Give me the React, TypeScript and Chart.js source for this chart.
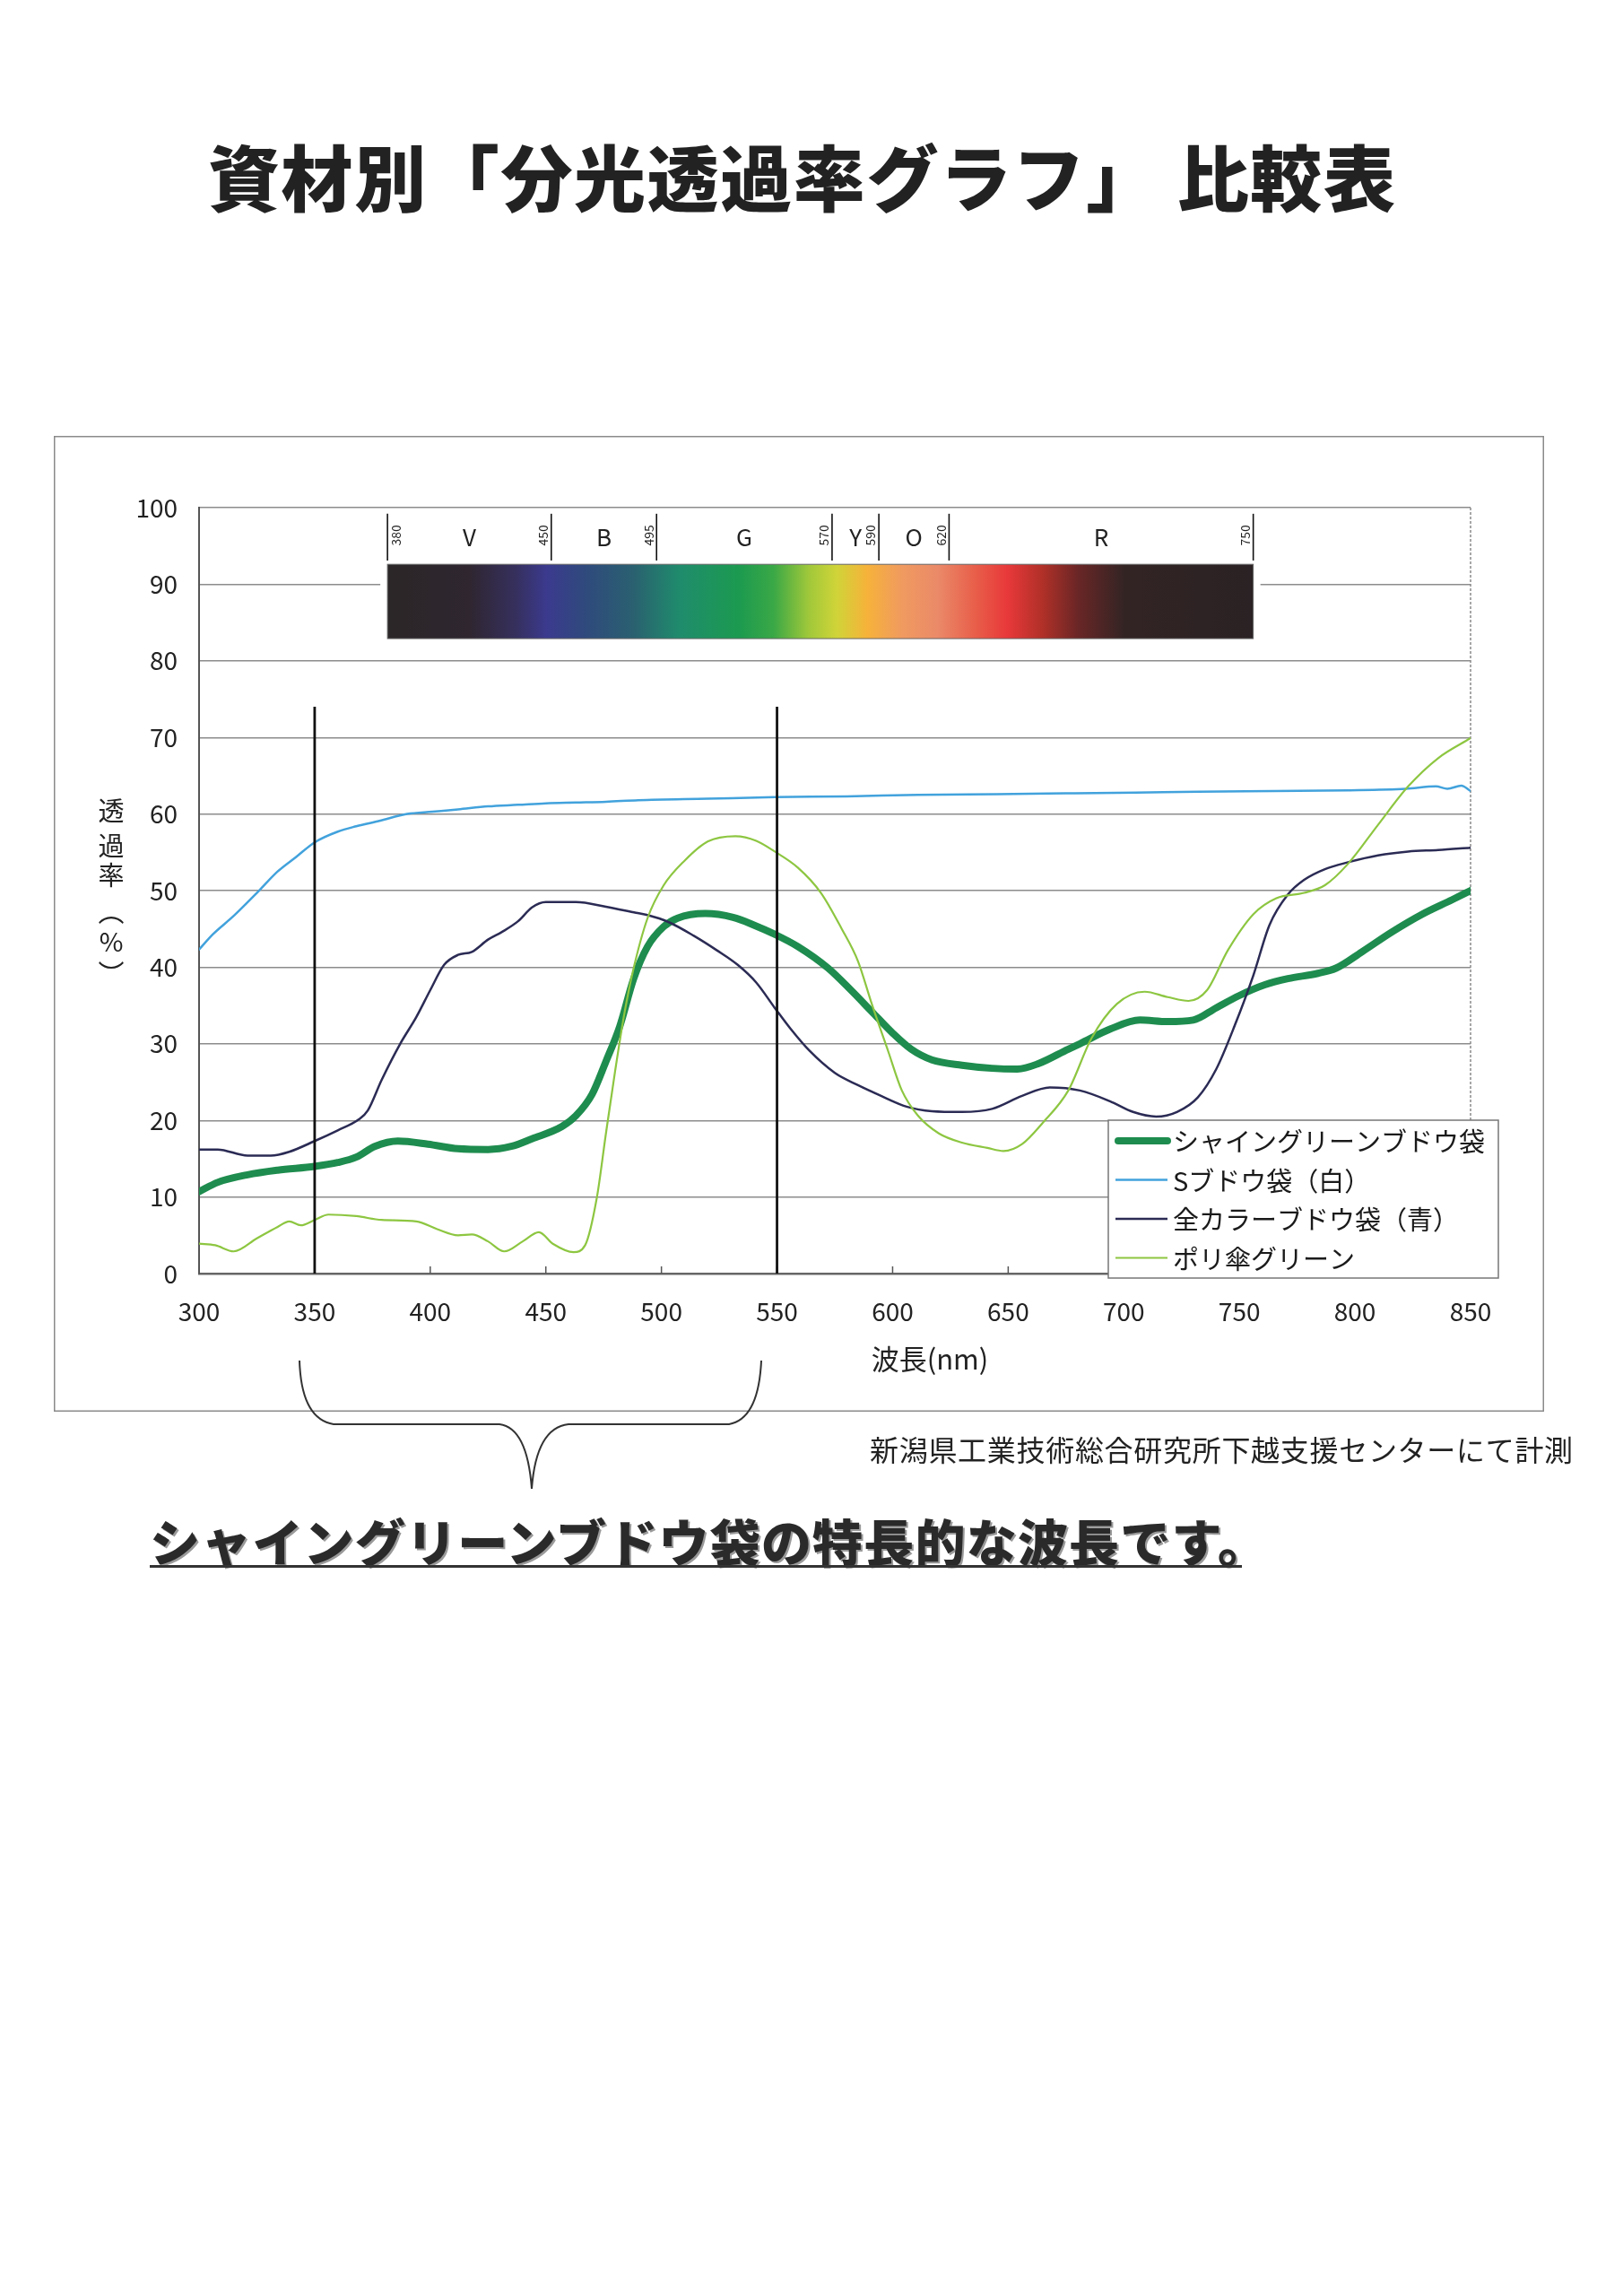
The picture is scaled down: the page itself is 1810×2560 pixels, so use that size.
import React, { useEffect, useRef } from "react";
import { Chart, registerables } from "chart.js";

Chart.register(...registerables);

// ---------- text ----------
const TITLE = "資材別「分光透過率グラフ」 比較表";
const NOTE = "新潟県工業技術総合研究所下越支援センターにて計測";
const SENTENCE = "シャイングリーンブドウ袋の特長的な波長です。";
const X_TITLE = "波長(nm)";
const Y_TITLE_CHARS = ["透", "過", "率", "︵", "%", "︶"];
const seriesNames = ["シャイングリーンブドウ袋", "Sブドウ袋（白）", "全カラーブドウ袋（青）", "ポリ傘グリーン"];

// ---------- axes ----------
const xTickValues = [300, 350, 400, 450, 500, 550, 600, 650, 700, 750, 800, 850];
const yTickValues = [0, 10, 20, 30, 40, 50, 60, 70, 80, 90, 100];
const markerWavelengths = [350, 550];
const markerTop = 74;

// ---------- spectrum band ----------
const spectrumBounds = [380, 450, 495, 570, 590, 620, 750];
const bandLabels = ["V", "B", "G", "Y", "O", "R"];
const spectrumAxisRange = [381.5, 756];
const spectrumBarRange = [82.9, 92.6];
const spectrumLabelRange = [93.1, 99.2];
const spectrumStopsNm = [380, 415, 435, 448, 465, 485, 505, 530, 545, 560, 572, 585, 600, 615, 632, 645, 660, 675, 695, 750];
const spectrumStopsColor = ["#2b2627", "#2f2630", "#36305e", "#3b3a8e", "#2f4a7c", "#2a6070", "#1f8c6c", "#1c9a50", "#3aa846", "#a0c83a", "#d0d438", "#f6b23a", "#f09a60", "#ea8a68", "#e85c48", "#e8383a", "#b03028", "#6a2626", "#332424", "#2a2224"];

// ---------- series ----------
const shineWl = [300, 308, 321, 334, 350, 360, 368, 376, 386, 399, 412, 425, 435, 444, 457, 463, 470, 476, 482, 488, 494, 501, 507, 519, 531, 540, 549, 559, 572, 582, 591, 600, 608, 617, 630, 643, 654, 663, 676, 681, 694, 707, 719, 730, 740, 750, 761, 771, 784, 792, 803, 816, 829, 842, 850];
const shineT = [10.7, 11.9, 12.9, 13.5, 14.0, 14.5, 15.2, 16.6, 17.3, 16.9, 16.3, 16.2, 16.6, 17.6, 19.2, 20.6, 23.4, 27.7, 32.3, 38.5, 42.7, 45.3, 46.4, 47.0, 46.5, 45.5, 44.3, 42.7, 39.9, 37.0, 34.2, 31.4, 29.3, 27.9, 27.2, 26.8, 26.7, 27.4, 29.3, 30.0, 31.9, 33.1, 32.9, 33.1, 34.7, 36.3, 37.7, 38.5, 39.2, 39.9, 42.0, 44.6, 46.9, 48.8, 50.0];

const whiteWl = [300, 306, 315, 325, 334, 342, 350, 360, 368, 378, 390, 401, 412, 425, 438, 450, 463, 476, 490, 520, 549, 580, 611, 645, 675, 705, 732, 765, 797, 822, 835, 840, 846, 850];
const whiteT = [42.3, 44.3, 46.7, 49.7, 52.5, 54.4, 56.3, 57.7, 58.4, 59.1, 60.0, 60.3, 60.6, 61.0, 61.2, 61.4, 61.5, 61.6, 61.8, 62.0, 62.2, 62.3, 62.5, 62.6, 62.7, 62.8, 62.9, 63.0, 63.1, 63.3, 63.6, 63.3, 63.7, 63.0];

const blueWl = [300, 308, 321, 331, 339, 350, 360, 369, 373, 379, 387, 394, 400, 406, 412, 418, 425, 431, 438, 444, 450, 463, 476, 489, 494, 503, 514, 524, 533, 541, 549, 556, 564, 575, 585, 595, 606, 617, 630, 643, 656, 668, 681, 694, 704, 714, 723, 732, 740, 748, 756, 763, 771, 778, 787, 797, 810, 823, 836, 850];
const blueT = [16.2, 16.2, 15.4, 15.4, 15.9, 17.3, 18.7, 20.1, 21.3, 25.3, 30.0, 33.5, 37.0, 40.3, 41.6, 42.0, 43.6, 44.6, 46.0, 47.8, 48.5, 48.5, 47.9, 47.1, 46.8, 45.9, 44.1, 42.2, 40.3, 38.0, 34.7, 31.9, 29.1, 26.2, 24.6, 23.2, 21.8, 21.2, 21.1, 21.5, 23.2, 24.3, 23.9, 22.5, 21.1, 20.5, 21.1, 23.0, 26.7, 32.4, 38.9, 45.5, 49.5, 51.4, 52.8, 53.7, 54.6, 55.1, 55.3, 55.6];

const polyWl = [300, 307, 315, 325, 334, 339, 344, 350, 356, 368, 379, 394, 403, 412, 418, 425, 432, 440, 447, 453, 462, 467, 472, 476, 480, 484, 488, 494, 501, 510, 520, 532, 541, 549, 559, 569, 578, 585, 591, 598, 604, 611, 620, 630, 641, 648, 656, 665, 676, 686, 697, 709, 719, 728, 736, 745, 756, 766, 778, 787, 797, 810, 823, 836, 850];
const polyT = [3.9, 3.7, 2.9, 4.6, 6.1, 6.8, 6.3, 7.0, 7.7, 7.5, 7.0, 6.8, 5.8, 5.0, 5.1, 4.2, 2.9, 4.2, 5.4, 3.9, 2.8, 3.7, 9.8, 18.3, 26.5, 34.0, 39.9, 46.4, 50.7, 53.9, 56.4, 57.1, 56.5, 55.1, 53.0, 49.7, 45.0, 40.8, 35.2, 29.1, 23.9, 20.6, 18.3, 17.1, 16.4, 16.0, 16.9, 19.7, 23.9, 30.7, 35.2, 36.8, 36.1, 35.6, 37.0, 42.2, 46.9, 49.0, 49.7, 50.7, 53.5, 58.6, 63.6, 67.3, 69.9];

const seriesColors = ["#1e8c4e", "#42a2dc", "#2b2b55", "#8dc641"];
const seriesWidths = [8, 2.5, 2.5, 2.2];
const seriesOrder = [4, 3, 2, 1];

const FONT = "'Noto Sans CJK JP', 'Noto Sans', sans-serif";

const toPoints = (xs: number[], ys: number[]) => xs.map((x, i) => ({ x, y: ys[i] }));

const decorPlugin = {
  id: "decor",
  beforeDatasetsDraw(chart: any) {
    const { ctx, chartArea, scales } = chart;
    const xs = scales.x;
    const ys = scales.y;
    ctx.save();
    // right border of plot (dotted)
    ctx.strokeStyle = "#8a8a8a";
    ctx.lineWidth = 1.5;
    ctx.setLineDash([3, 2]);
    ctx.beginPath();
    ctx.moveTo(chartArea.right, chartArea.top);
    ctx.lineTo(chartArea.right, chartArea.bottom);
    ctx.stroke();
    ctx.setLineDash([]);
    // inward tick marks on x axis
    ctx.strokeStyle = "#555";
    ctx.lineWidth = 1.5;
    for (const v of xTickValues) {
      const px = xs.getPixelForValue(v);
      ctx.beginPath();
      ctx.moveTo(px, chartArea.bottom);
      ctx.lineTo(px, chartArea.bottom - 8);
      ctx.stroke();
    }
    // spectrum band
    const n0 = spectrumBounds[0];
    const n1 = spectrumBounds[spectrumBounds.length - 1];
    const sp = (nm: number) =>
      xs.getPixelForValue(spectrumAxisRange[0] + ((nm - n0) * (spectrumAxisRange[1] - spectrumAxisRange[0])) / (n1 - n0));
    const bx0 = sp(n0);
    const bx1 = sp(n1);
    const byTop = ys.getPixelForValue(spectrumBarRange[1]);
    const byBot = ys.getPixelForValue(spectrumBarRange[0]);
    ctx.fillStyle = "#ffffff";
    ctx.fillRect(bx0 - 8, byTop - 4, bx1 - bx0 + 16, byBot - byTop + 8);
    const grad = ctx.createLinearGradient(bx0, 0, bx1, 0);
    spectrumStopsNm.forEach((nm, i) => grad.addColorStop((nm - n0) / (n1 - n0), spectrumStopsColor[i]));
    ctx.fillStyle = grad;
    ctx.fillRect(bx0, byTop, bx1 - bx0, byBot - byTop);
    ctx.strokeStyle = "#666";
    ctx.lineWidth = 1;
    ctx.strokeRect(bx0, byTop, bx1 - bx0, byBot - byTop);
    // label row
    const lyTop = ys.getPixelForValue(spectrumLabelRange[1]);
    const lyBot = ys.getPixelForValue(spectrumLabelRange[0]);
    const lyMid = (lyTop + lyBot) / 2;
    ctx.strokeStyle = "#111";
    ctx.lineWidth = 1.6;
    spectrumBounds.forEach((nm, i) => {
      const px = sp(nm);
      ctx.beginPath();
      ctx.moveTo(px, lyTop);
      ctx.lineTo(px, lyBot);
      ctx.stroke();
      ctx.save();
      const tx = i === 0 ? px + 10 : px - 9;
      ctx.translate(tx, lyMid - 2);
      ctx.rotate(-Math.PI / 2);
      ctx.fillStyle = "#222";
      ctx.font = `14px ${FONT}`;
      ctx.textAlign = "center";
      ctx.textBaseline = "middle";
      ctx.fillText(String(nm), 0, 0);
      ctx.restore();
    });
    ctx.fillStyle = "#222";
    ctx.font = `26px ${FONT}`;
    ctx.textAlign = "center";
    ctx.textBaseline = "middle";
    bandLabels.forEach((lab, i) => {
      const cx = (sp(spectrumBounds[i]) + sp(spectrumBounds[i + 1])) / 2;
      ctx.fillText(lab, cx, lyMid);
    });
    ctx.restore();
  },
  afterDatasetsDraw(chart: any) {
    const { ctx, scales } = chart;
    const xs = scales.x;
    const ys = scales.y;
    ctx.save();
    ctx.strokeStyle = "#111";
    ctx.lineWidth = 2.8;
    for (const wl of markerWavelengths) {
      const px = xs.getPixelForValue(wl);
      ctx.beginPath();
      ctx.moveTo(px, ys.getPixelForValue(markerTop));
      ctx.lineTo(px, ys.getPixelForValue(0));
      ctx.stroke();
    }
    ctx.restore();
  },
  afterDraw(chart: any) {
    const { ctx, width, height, chartArea } = chart;
    ctx.save();
    // outer box
    ctx.strokeStyle = "#8a8a8a";
    ctx.lineWidth = 1.5;
    ctx.strokeRect(0.75, 0.75, width - 1.5, height - 1.5);
    // legend
    const lx = chartArea.right - 404;
    const ly = chartArea.bottom - 171;
    const lw = 435;
    const lh = 176;
    ctx.fillStyle = "#ffffff";
    ctx.fillRect(lx, ly, lw, lh);
    ctx.strokeStyle = "#777";
    ctx.lineWidth = 1.5;
    ctx.strokeRect(lx, ly, lw, lh);
    ctx.font = `29px ${FONT}`;
    ctx.textAlign = "left";
    ctx.textBaseline = "middle";
    seriesNames.forEach((name, i) => {
      const cy = ly + 23 + i * 43.5;
      ctx.strokeStyle = seriesColors[i];
      ctx.lineWidth = seriesWidths[i];
      ctx.lineCap = i === 0 ? "round" : "butt";
      ctx.beginPath();
      ctx.moveTo(lx + (i === 0 ? 11 : 8), cy);
      ctx.lineTo(lx + 66, cy);
      ctx.stroke();
      ctx.fillStyle = "#1a1a1a";
      ctx.fillText(name, lx + 72, cy + 1);
    });
    // x title
    ctx.fillStyle = "#222";
    ctx.font = `31px ${FONT}`;
    ctx.textAlign = "center";
    ctx.textBaseline = "middle";
    ctx.fillText(X_TITLE, chartArea.left + 815, chartArea.bottom + 95);
    // y title (vertical)
    ctx.font = `29px ${FONT}`;
    const yCenters = [418, 457, 490, 531, 564, 600];
    Y_TITLE_CHARS.forEach((ch, i) => {
      ctx.fillText(ch, chartArea.left - 98, chartArea.top + yCenters[i] - 80);
    });
    ctx.restore();
  },
};

function SpectrumChart() {
  const ref = useRef<HTMLCanvasElement | null>(null);
  useEffect(() => {
    if (!ref.current) return;
    const chart = new Chart(ref.current, {
      type: "line",
      data: {
        datasets: [
          { label: seriesNames[0], data: toPoints(shineWl, shineT) },
          { label: seriesNames[1], data: toPoints(whiteWl, whiteT) },
          { label: seriesNames[2], data: toPoints(blueWl, blueT) },
          { label: seriesNames[3], data: toPoints(polyWl, polyT) },
        ].map((d, i) => ({
          ...d,
          borderColor: seriesColors[i],
          backgroundColor: seriesColors[i],
          borderWidth: seriesWidths[i],
          pointRadius: 0,
          cubicInterpolationMode: "monotone" as const,
          fill: false,
          order: seriesOrder[i],
          borderCapStyle: "round" as const,
          borderJoinStyle: "round" as const,
        })),
      },
      options: {
        animation: false,
        responsive: false,
        devicePixelRatio: 1,
        layout: { padding: { left: 0, right: 82, top: 80, bottom: 0 } },
        plugins: { legend: { display: false }, tooltip: { enabled: false } },
        scales: {
          x: {
            type: "linear",
            min: 300,
            max: 850,
            afterFit: (s: any) => {
              s.height = 154;
            },
            afterBuildTicks: (s: any) => {
              s.ticks = xTickValues.map((v) => ({ value: v }));
            },
            grid: { display: false, drawTicks: false },
            border: { display: true, color: "#666", width: 2.5 },
            ticks: { padding: 26, color: "#222", font: { size: 28, family: FONT } },
          },
          y: {
            min: 0,
            max: 100,
            afterFit: (s: any) => {
              s.width = 162;
            },
            afterBuildTicks: (s: any) => {
              s.ticks = yTickValues.map((v) => ({ value: v }));
            },
            grid: { display: true, drawTicks: false, color: "#8c8c8c", lineWidth: 1.4 },
            border: { display: true, color: "#555", width: 2 },
            ticks: { padding: 24, color: "#222", font: { size: 28, family: FONT } },
          },
        },
      },
      plugins: [decorPlugin],
    });
    return () => chart.destroy();
  }, []);
  return <canvas ref={ref} width={1662} height={1088} style={{ position: "absolute", left: 60, top: 486, width: 1662, height: 1088 }} />;
}

export default function App() {
  return (
    <div style={{ position: "absolute", left: 0, top: 0, width: 1810, height: 2560, background: "#fff", overflow: "hidden", fontFamily: FONT }}>
      <div style={{ position: "absolute", left: 232, top: 154, fontSize: 80, lineHeight: "80px", fontWeight: 900, letterSpacing: 1.6, color: "#222", whiteSpace: "nowrap" }}>{TITLE}</div>
      <SpectrumChart />
      <svg width={1810} height={2560} style={{ position: "absolute", left: 0, top: 0, pointerEvents: "none" }}>
        <path d="M 334 1517 Q 336 1582 372 1588 L 557 1588 Q 588 1592 593 1660 Q 598 1592 634 1588 L 813 1588 Q 846 1582 849 1517" fill="none" stroke="#333" strokeWidth={2} />
      </svg>
      <div style={{ position: "absolute", left: 970, top: 1599, fontSize: 32, lineHeight: "32px", letterSpacing: 0.7, color: "#222", whiteSpace: "nowrap" }}>{NOTE}</div>
      <div style={{ position: "absolute", left: 167, top: 1689, fontSize: 56, lineHeight: "56px", fontWeight: 900, letterSpacing: 1.2, color: "#2a2a2a", whiteSpace: "nowrap", textShadow: "2px 2px 0 #9a9a9a" }}>{SENTENCE}</div>
      <div style={{ position: "absolute", left: 167, top: 1745, width: 1218, height: 3, background: "#333" }} />
    </div>
  );
}
